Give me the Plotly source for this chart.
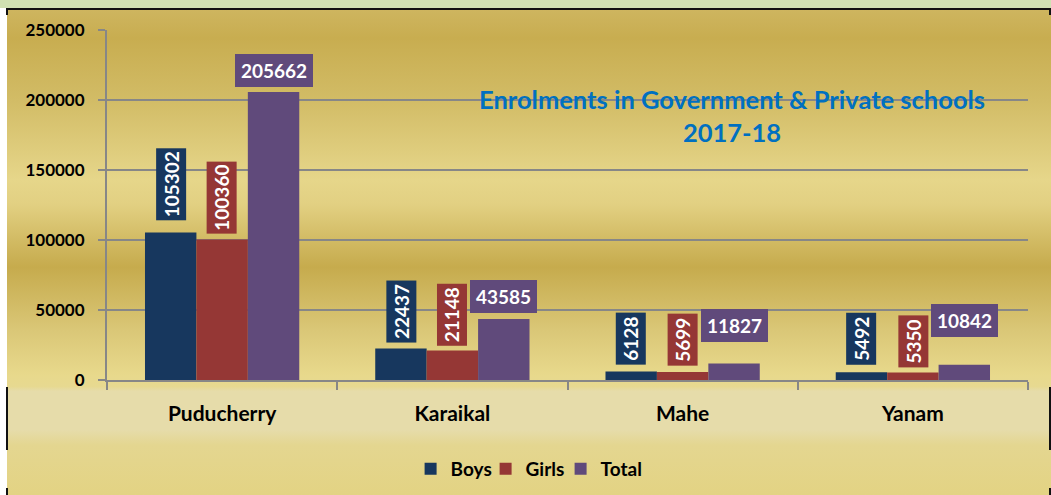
import base64
import plotly.graph_objects as go

# ---- data ----
regions = ["Puducherry", "Karaikal", "Mahe", "Yanam"]
boys = [105302, 22437, 6128, 5492]
girls = [100360, 21148, 5699, 5350]
total = [205662, 43585, 11827, 10842]
y_ticks = [0, 50000, 100000, 150000, 200000, 250000]

# ---- style ----
W, H = 1051, 495
PX_L, PX_R, PX_T, PX_B = 107, 1028, 30, 380
BARGAP = 0.33
colors = {"Boys": "#17375E", "Girls": "#953735", "Total": "#604A7B"}
FONT = "Lato"
GRID = "#878787"
label_lift = {"Boys": [12, 6, 7, 8], "Girls": [6, 5, 6, 5], "Total": [5, 6, 21, 28]}

series = [("Boys", boys), ("Girls", girls), ("Total", total)]

fig = go.Figure()
for name, vals in series:
    fig.add_trace(go.Bar(name=name, x=regions, y=vals, marker=dict(color=colors[name], line=dict(width=0))))
# empty spacer legend entry (keeps the last legend label from being clipped)
fig.add_trace(go.Scatter(x=[None], y=[None], mode="markers", name=" ",
                         marker=dict(color="rgba(0,0,0,0)"), hoverinfo="skip"))

# background gradient as svg image
stops = [
    (0.0, "#ceb55f"), (0.058, "#c8ad50"), (0.186, "#d2bc66"), (0.35, "#e6d68a"),
    (0.40, "#e2d082"), (0.53, "#c6ab4d"), (0.66, "#dac777"), (0.753, "#e8d98c"),
    (0.776, "#e7d990"), (0.786, "#e6dcaa"), (0.866, "#e6dcaa"), (0.897, "#e4d690"),
    (1.0, "#e3d383"),
]
stop_xml = "".join(f'<stop offset="{o}" stop-color="{c}"/>' for o, c in stops)
svg = (f'<svg xmlns="http://www.w3.org/2000/svg" width="100" height="485" preserveAspectRatio="none">'
       f'<defs><linearGradient id="g" x1="0" y1="0" x2="0" y2="1">{stop_xml}</linearGradient></defs>'
       f'<rect x="0" y="0" width="100" height="485" fill="url(#g)"/></svg>')
src = "data:image/svg+xml;base64," + base64.b64encode(svg.encode()).decode()
fig.add_layout_image(dict(source=src, xref="paper", yref="paper", x=7 / W, y=1 - 10 / H,
                          sizex=(W - 7) / W, sizey=(H - 10) / H, sizing="stretch",
                          xanchor="left", yanchor="top", layer="below"))

shapes = [
    dict(type="rect", xref="paper", yref="paper", x0=0, x1=1, y0=1 - 8 / H, y1=1,
         fillcolor="#d0e1b2", line=dict(width=0), layer="below"),
    dict(type="line", xref="paper", yref="paper", x0=7 / W, x1=1, y0=1 - 9 / H, y1=1 - 9 / H,
         line=dict(color="#111111", width=2)),
]
for xpix in (7, 1050):
    for y0, y1 in ((8, 15), (387, 450), (488, 495)):
        shapes.append(dict(type="line", xref="paper", yref="paper", x0=xpix / W, x1=xpix / W,
                           y0=1 - y0 / H, y1=1 - y1 / H, line=dict(color="#111111", width=2)))

# data labels
cat_px = (PX_R - PX_L) / len(regions)
bar_px = cat_px * (1 - BARGAP) / len(series)
annotations = []
for j, (name, vals) in enumerate(series):
    for i, v in enumerate(vals):
        txt = str(v)
        if name == "Total":
            extra = dict(textangle=0, width=11 * len(txt) + 12, height=33)
        else:
            extra = dict(textangle=-90, width=10 * len(txt) + 12, height=30)
        annotations.append(dict(
            x=regions[i], y=v, xref="x", yref="y", text=txt, showarrow=False,
            xanchor="center", yanchor="bottom", xshift=(j - 1) * bar_px,
            yshift=label_lift[name][i], bgcolor=colors[name], borderpad=0, borderwidth=0,
            font=dict(family=FONT, size=19, color="white", weight="bold"), align="center",
            valign="middle", **extra))

annotations.append(dict(
    x=732 / W, y=1 - 115.5 / H, xref="paper", yref="paper", showarrow=False,
    text="Enrolments in Government & Private schools<br>2017-18", align="center",
    xanchor="center", yanchor="middle",
    font=dict(family=FONT, size=25.5, color="#0070C0", weight="bold")))

fig.update_layout(
    width=W, height=H, template="none",
    margin=dict(l=0, r=0, t=0, b=0),
    paper_bgcolor="white", plot_bgcolor="rgba(0,0,0,0)",
    barmode="group", bargap=BARGAP, bargroupgap=0,
    shapes=shapes, annotations=annotations,
    showlegend=True,
    legend=dict(orientation="h", x=560.6 / W, xanchor="center", y=1 - 469 / H, yanchor="middle",
                font=dict(family=FONT, size=19, color="black", weight="bold"),
                entrywidth=30, entrywidthmode="pixels",
                bgcolor="rgba(0,0,0,0)", traceorder="normal"),
    xaxis=dict(domain=[PX_L / W, PX_R / W], showline=True, linecolor=GRID, linewidth=2,
               ticks="outside", tickson="boundaries", ticklen=8, tickwidth=2, tickcolor=GRID,
               showgrid=False, automargin=False, ticklabelstandoff=14,
               tickfont=dict(family=FONT, size=21, color="black", weight="bold")),
    yaxis=dict(domain=[1 - PX_B / H, 1 - PX_T / H], range=[0, 250000], tickvals=y_ticks,
               ticktext=[str(t) for t in y_ticks], showline=True, linecolor=GRID, linewidth=2,
               ticks="outside", ticklen=7, tickwidth=2, tickcolor=GRID,
               showgrid=True, gridcolor=GRID, gridwidth=2, zeroline=False, automargin=False,
               ticklabelstandoff=10,
               tickfont=dict(family=FONT, size=17, color="black", weight="bold")),
)

fig.write_html("out.html", config={"displayModeBar": False},
               post_script="document.body.style.margin='0';document.body.style.overflow='hidden';")
